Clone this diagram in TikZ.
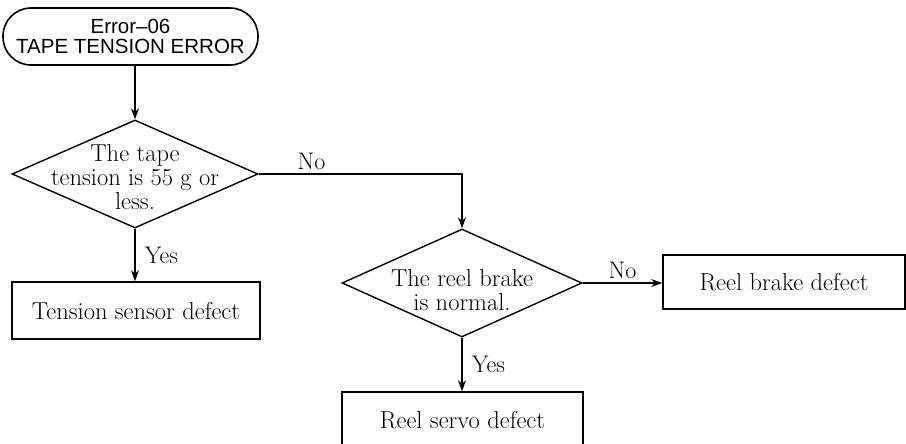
\documentclass[tikz,border=0pt]{standalone}
\usepackage{fontspec}
\newfontfamily\termfont[Ligatures=TeX]{Liberation Sans}
\usetikzlibrary{shapes.geometric,arrows.meta}
\begin{document}
\begin{tikzpicture}[
    x=1pt, y=-1pt,
    start/.style={draw, line width=1.6pt, rounded corners=28pt, minimum width=255pt, minimum height=57pt, inner sep=0pt, align=center, font=\termfont\fontsize{20.5}{20.5}\selectfont},
    decision/.style={diamond, draw, line width=1.4pt, inner sep=0pt},
    qtext/.style={align=center, font=\fontsize{24.5}{24}\selectfont},
    result/.style={draw, line width=1.6pt, font=\fontsize{24.5}{24}\selectfont},
    flow/.style={-{Stealth[length=11pt,width=8pt]}, line width=1.2pt},
    answer/.style={font=\fontsize{24}{24}\selectfont}
]
    \useasboundingbox (0,0) rectangle (906,444);

    % Start
    \node[start] (err) at (130.5,36.5) {Error--06\\TAPE TENSION ERROR};

    % First question
    \node[decision, minimum width=246pt, minimum height=108pt] (q1) at (135,174) {};
    \node[qtext, yshift=-3pt] at (q1) {The tape\\tension is 55 g or\\less.};
    \draw[flow] (err.south -| q1.north) -- (q1.north);

    \node[result, minimum width=248pt, minimum height=57pt] (sensor) at (136,310.5) {Tension sensor defect};
    \draw[flow] (q1.south) -- node[answer, right=6pt] {Yes} (sensor.north -| q1.south);

    % Second question
    \node[decision, minimum width=240pt, minimum height=108pt] (q2) at (462,283) {};
    \node[qtext, yshift=-7pt] at (q2) {The reel brake\\is normal.};
    \draw[flow] (q1.east) -- node[answer, above, pos=0.26] {No} (q1.east -| q2.north) -- (q2.north);

    \node[result, minimum width=242pt, minimum height=54pt] (brake) at (784,282) {Reel brake defect};
    \draw[flow] (q2.east) -- node[answer, above] {No} (brake.west |- q2.east);

    \node[result, minimum width=241pt, minimum height=56pt] (servo) at (462.5,420) {Reel servo defect};
    \draw[flow] (q2.south) -- node[answer, right=6pt] {Yes} (servo.north -| q2.south);
\end{tikzpicture}
\end{document}
